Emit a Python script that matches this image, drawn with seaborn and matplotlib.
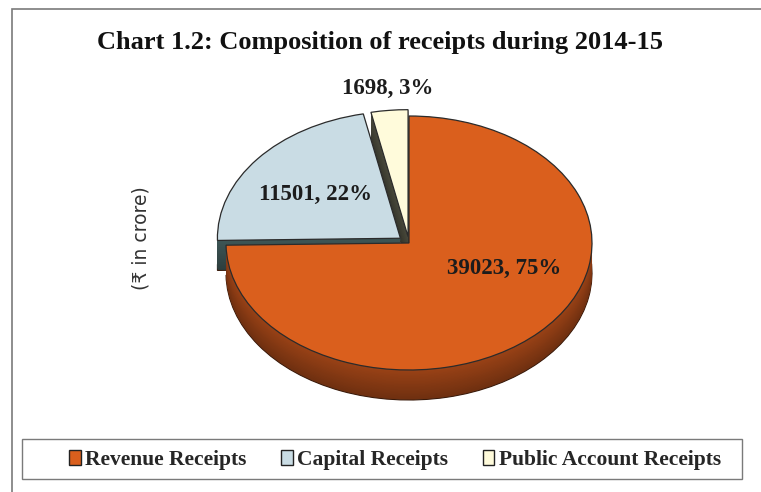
import numpy as np
import matplotlib
matplotlib.use("Agg")
import matplotlib.pyplot as plt
import seaborn as sns
from matplotlib.patches import Rectangle, Patch

sns.set_theme(style="white")
plt.rcParams["font.family"] = ["Liberation Serif", "DejaVu Serif"]

# Receipts for 2014-15 (₹ in crore)
categories = ["Revenue Receipts", "Capital Receipts", "Public Account Receipts"]
amounts = [39023, 11501, 1698]

title_text = "Chart 1.2: Composition of receipts during 2014-15"
unit_text = "(\u20b9 in crore)"

top_colors = ["#DA5F1D", "#C9DCE4", "#FFFBDB"]
side_colors = ["#9A4216", "#3E5656", "#4A4A3C"]
explode = [0.0, 0.06, 0.05]

W, H = 761, 492
fig = plt.figure(figsize=(W / 100, H / 100), dpi=100)

# pie centre and radii in pixels (elliptical top face for a tilted look)
cx, cy, rx, ry = 409, 243, 183, 127
ax = fig.add_axes([(cx - 2 * rx) / W, (H - cy - 1.8 * ry) / H, 4 * rx / W, 3.6 * ry / H])

# stacked copies underneath give the pie its thickness
depth = 30 / ry
n_layers = 40
for k in range(n_layers, 0, -1):
    off = depth * k / n_layers
    shade = 0.72 + 0.28 * (1 - k / n_layers)
    cols = [tuple(min(1, c * shade) for c in matplotlib.colors.to_rgb(sc)) for sc in side_colors]
    ec = "#3a1a0a" if k == n_layers else "none"
    ax.pie(amounts, colors=cols, startangle=90, counterclock=False, explode=explode,
           center=(0, -off), radius=1.0,
           wedgeprops=dict(linewidth=0.8 if k == n_layers else 0, edgecolor=ec))

wedges, _ = ax.pie(amounts, colors=top_colors, startangle=90, counterclock=False,
                   explode=explode, center=(0, 0), radius=1.0,
                   wedgeprops=dict(linewidth=0.9, edgecolor="#2b2b2b"))

ax.set_aspect("auto")
ax.set_xlim(-2, 2)
ax.set_ylim(-1.8, 1.8)
ax.axis("off")

total = sum(amounts)
labels = [f"{v}, {round(100 * v / total)}%" for v in amounts]
label_pos = [(0.52, -0.20), (-0.51, 0.38), (-0.115, 1.22)]
for lab, (x, y) in zip(labels, label_pos):
    ax.text(x, y, lab, ha="center", va="center", fontsize=16.5, fontweight="bold",
            color="#1c1c1c")

fig.text(380 / W, 1 - 42 / H, title_text, ha="center", va="center",
         fontsize=19, fontweight="bold", color="#111111")
fig.text(141 / W, 1 - 238 / H, unit_text, ha="center", va="center", rotation=90,
         fontsize=13.5, color="#333333", family=["DejaVu Sans", "Noto Sans"])

# outer frame and legend box
fig.patches.append(Rectangle((12 / W, -0.1), 1.2, (H - 9) / H + 0.1, transform=fig.transFigure,
                             fill=False, edgecolor="#7a7a7a", linewidth=1.2))
fig.patches.append(Rectangle((22 / W, (H - 479) / H), 720 / W, 40 / H, transform=fig.transFigure,
                             fill=False, edgecolor="#7a7a7a", linewidth=1.0))

handles = [Patch(facecolor=c, edgecolor="#222222", linewidth=1.0) for c in top_colors]
fig.legend(handles, categories, loc="center", bbox_to_anchor=(395 / W, 1 - 460 / H),
           ncol=3, frameon=False, handlelength=0.55, handleheight=0.7,
           handletextpad=0.2, columnspacing=1.6, prop=dict(weight="bold", size=15.5))

fig.savefig("out.png", dpi=100, facecolor="white")
